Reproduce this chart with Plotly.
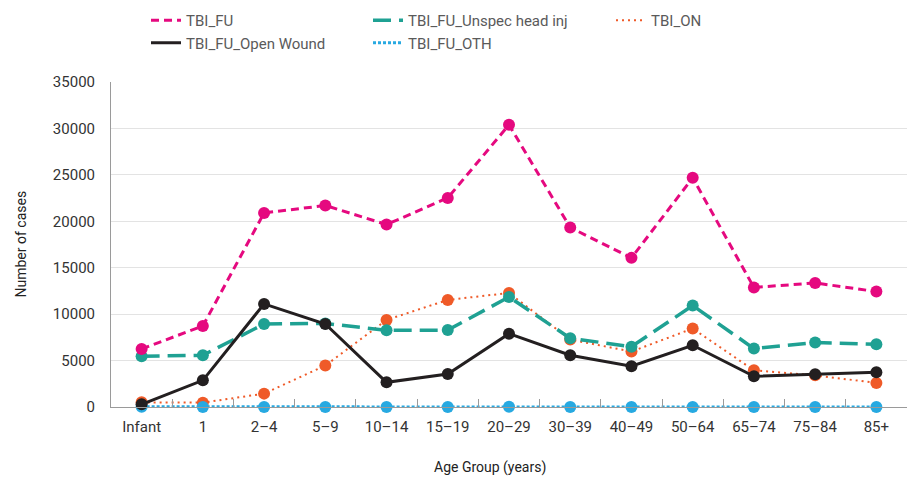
import plotly.graph_objects as go

categories = ["Infant", "1", "2–4", "5–9", "10–14", "15–19", "20–29", "30–39",
              "40–49", "50–64", "65–74", "75–84", "85+"]

tbi_fu = [6250, 8730, 20900, 21700, 19650, 22520, 30390, 19330, 16060, 24680, 12870, 13360, 12430]
tbi_fu_open_wound = [290, 2870, 11100, 8940, 2660, 3560, 7900, 5570, 4390, 6650, 3310, 3520, 3740]
tbi_fu_unspec = [5460, 5570, 8940, 9000, 8260, 8280, 11850, 7400, 6500, 10920, 6290, 6940, 6760]
tbi_fu_oth = [15, 10, 10, 10, 10, 10, 15, 10, 10, 10, 10, 10, 10]
tbi_on = [500, 470, 1440, 4460, 9380, 11530, 12280, 7260, 5970, 8450, 3950, 3410, 2590]

y_ticks = [0, 5000, 10000, 15000, 20000, 25000, 30000, 35000]
y_tick_text = [str(v) for v in y_ticks]

FONT = "Roboto"

series = [
    # name, values, color, width, dash, legend id, rank
    ("TBI_ON", tbi_on, "#ef5a28", 2, "2px,4px", "legend3", 1),
    ("TBI_FU_OTH", tbi_fu_oth, "#27a9e1", 3, "3px,2px", "legend2", 2),
    ("TBI_FU_Unspec head inj", tbi_fu_unspec, "#1fa193", 3.5, "18px,8px", "legend2", 1),
    ("TBI_FU", tbi_fu, "#e5097f", 3, "8px,5px", "legend", 1),
    ("TBI_FU_Open Wound", tbi_fu_open_wound, "#231f20", 3, "solid", "legend", 2),
]

fig = go.Figure()
for name, vals, color, w, dash, lg, rank in series:
    fig.add_trace(go.Scatter(
        x=categories, y=vals, name=name, mode="lines+markers",
        line=dict(color=color, width=w, dash=dash),
        marker=dict(color=color, size=12),
        showlegend=False, cliponaxis=False,
    ))
    # legend entry showing the line style only
    fig.add_trace(go.Scatter(
        x=[None], y=[None], name=name, mode="lines",
        line=dict(color=color, width=w, dash=dash),
        legend=lg, legendrank=rank, showlegend=True,
    ))

legend_common = dict(
    orientation="v", xref="container", yref="container",
    xanchor="left", yanchor="top", tracegroupgap=0,
    font=dict(size=15, color="#5a5a5a"), bgcolor="rgba(0,0,0,0)",
)

fig.update_layout(
    width=919, height=487,
    margin=dict(l=111, r=12, t=82, b=80, autoexpand=False),
    paper_bgcolor="white", plot_bgcolor="white",
    font=dict(family=FONT, size=15, color="#333333"),
    showlegend=True,
    legend=dict(legend_common, x=146 / 919, y=1 - 4 / 487),
    legend2=dict(legend_common, x=368 / 919, y=1 - 4 / 487),
    legend3=dict(legend_common, x=611 / 919, y=1 - 4 / 487),
    xaxis=dict(
        type="category", range=[-0.5, 12.5], automargin=False,
        showline=True, linecolor="#9a9a9a", linewidth=1,
        ticks="inside", tickson="boundaries", ticklen=8, tickcolor="#9a9a9a",
        showgrid=False, tickfont=dict(size=15, color="#333333"),
        ticklabelstandoff=6,
    ),
    yaxis=dict(
        range=[0, 35000], tickvals=y_ticks, ticktext=y_tick_text, automargin=False,
        showline=True, linecolor="#9a9a9a", linewidth=1,
        showgrid=True, gridcolor="#e3e3e3", gridwidth=1,
        zeroline=False, ticks="", ticklabelstandoff=12,
        tickfont=dict(size=15, color="#333333"),
    ),
)

fig.add_annotation(
    text="Number of cases", xref="paper", yref="paper",
    x=(20 - 111) / (907 - 111), y=0.5, textangle=-90,
    xanchor="center", yanchor="middle", showarrow=False,
    font=dict(size=14, color="#222222"),
)

fig.add_annotation(
    text="Age Group (years)", xref="paper", yref="paper",
    x=(490 - 111) / (907 - 111), y=-(468 - 407) / (407 - 82),
    xanchor="center", yanchor="middle", showarrow=False,
    font=dict(size=14, color="#222222"),
)

fig.write_html("out.html")
